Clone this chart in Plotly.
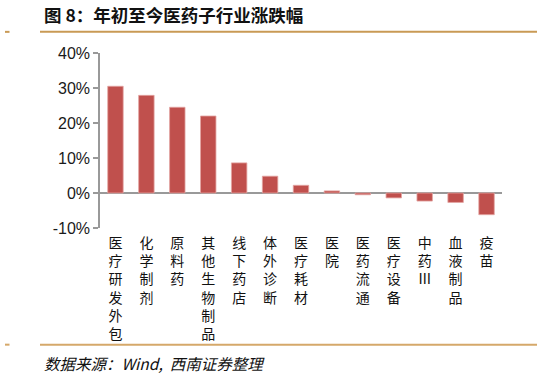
import plotly.graph_objects as go

categories = ["医疗研发外包", "化学制剂", "原料药", "其他生物制品", "线下药店", "体外诊断",
              "医疗耗材", "医院", "医药流通", "医疗设备", "中药Ⅲ", "血液制品", "疫苗"]
values = [30.5, 27.9, 24.5, 22.0, 8.6, 4.8, 2.2, 0.6, -0.5, -1.4, -2.3, -2.7, -6.2]
tick_vals = [-10, 0, 10, 20, 30, 40]
tick_text = ["-10%", "0%", "10%", "20%", "30%", "40%"]

title_text = "<b>图 8：年初至今医药子行业涨跌幅</b>"
source_text = "<i>数据来源：Wind,  西南证券整理</i>"

labels = ["<br>".join(list(c)) for c in categories]

# plot area pixel geometry
L, R, T, B = 100, 502, 52.5, 228
W, H = 542, 378
pw, ph = R - L, B - T


def px(x):
    return (x - L) / pw


def py(y):
    return (B - y) / ph


fig = go.Figure()
fig.add_trace(go.Bar(
    x=labels, y=values,
    marker=dict(color="#c0504d", line=dict(color="#e3a4a2", width=0.8)),
    width=0.5,
))

fig.update_layout(
    width=W, height=H,
    margin=dict(l=L, r=W - R, t=T, b=H - B, pad=0),
    paper_bgcolor="white", plot_bgcolor="white",
    showlegend=False,
    font=dict(family="Liberation Sans, Arial, sans-serif", color="#1a1a1a"),
    xaxis=dict(
        type="category", showline=False, showgrid=False, zeroline=False, ticks="",
        tickangle=0,
        tickfont=dict(family="Noto Sans CJK SC", size=14, color="#111"),
        ticklabelstandoff=5,
    ),
    yaxis=dict(
        range=[-10, 40], tickvals=tick_vals, ticktext=tick_text,
        showgrid=False, showline=True, linecolor="#999999", linewidth=1.5,
        ticks="outside", ticklen=5, tickcolor="#999999", tickwidth=1.5,
        zeroline=True, zerolinecolor="#999999", zerolinewidth=2,
        tickfont=dict(family="Liberation Sans, Arial, sans-serif", size=16, color="#1a1a1a"),
    ),
    shapes=[
        dict(type="line", xref="paper", yref="paper", x0=px(40), x1=px(537), y0=py(31.3), y1=py(31.3),
             line=dict(color="#c99a55", width=2)),
        dict(type="line", xref="paper", yref="paper", x0=px(5), x1=px(9.5), y0=py(31.3), y1=py(31.3),
             line=dict(color="#c99a55", width=2)),
        dict(type="line", xref="paper", yref="paper", x0=px(40), x1=px(537), y0=py(345), y1=py(345),
             line=dict(color="#d5a86a", width=2)),
        dict(type="line", xref="paper", yref="paper", x0=px(5), x1=px(9.5), y0=py(345), y1=py(345),
             line=dict(color="#d5a86a", width=2)),
    ],
    annotations=[
        dict(text=title_text, xref="paper", yref="paper", x=px(42), y=py(14), xanchor="left", yanchor="middle",
             showarrow=False, font=dict(family="Noto Sans CJK SC", size=17.5, color="#111")),
        dict(text=source_text, xref="paper", yref="paper", x=px(42), y=py(363), xanchor="left", yanchor="middle",
             showarrow=False, font=dict(family="Noto Sans CJK SC", size=15.5, color="#111")),
    ],
)

fig.write_html("out.html")
